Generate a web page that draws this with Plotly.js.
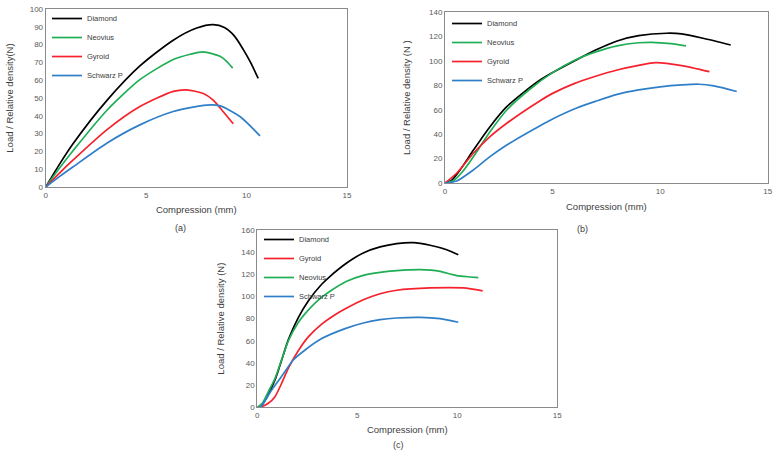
<!DOCTYPE html>
<html>
<head>
<meta charset="utf-8">
<script src="https://cdn.plot.ly/plotly-3.0.1.min.js"></script>
<style>
    body { margin: 0; background: #fff; }
    #graph { width: 778px; height: 462px; }
</style>
</head>
<body>
<div id="graph"></div>
<script>
/* panel (a) */
const aDiamondX = [0, 0.7, 1.37, 3.04, 4.69, 6.35, 7.52, 8.34, 8.9, 9.4, 9.84, 10.2, 10.58];
const aDiamondY = [0, 13, 24.4, 48.5, 68, 82.5, 89.3, 91.2, 89.6, 84.8, 77.2, 70, 61];
const aNeoviusX = [0, 0.7, 1.37, 3.04, 4.69, 6.35, 7.2, 7.84, 8.68, 9.01, 9.31];
const aNeoviusY = [0, 10.8, 20.5, 43, 60.3, 71.6, 74.6, 75.9, 73.4, 70.6, 66.8];
const aGyroidX = [0, 0.7, 1.37, 3.04, 4.69, 6.35, 7.02, 7.85, 8.34, 8.84, 9.34];
const aGyroidY = [0, 8, 15.2, 32.1, 45.2, 53.7, 54.6, 52.5, 48.8, 42.3, 35.5];
const aSchwarzX = [0, 0.7, 1.37, 3.04, 4.69, 6.35, 8.01, 8.68, 9.67, 10.67];
const aSchwarzY = [0, 6, 11.4, 24.6, 34.9, 42.4, 46, 45.6, 39.6, 28.7];

/* panel (b) */
const bDiamondX = [0, 0.3, 0.7, 1.32, 2.09, 2.87, 4.42, 6.12, 7, 8, 9, 10.3, 11, 12, 13.28];
const bDiamondY = [0, 2, 10.7, 27, 46.2, 62.6, 84.5, 101, 109, 116.5, 120.8, 122.8, 122.3, 118.7, 113.2];
const bNeoviusX = [0, 0.4, 0.8, 1.32, 2.09, 2.87, 4, 5, 6, 7, 8, 9, 9.6, 10.5, 11.2];
const bNeoviusY = [0, 2, 9, 21.6, 42, 59.9, 77.7, 90.5, 100.5, 107.5, 112.5, 115, 115.4, 114.3, 112.4];
const bGyroidX = [0, 0.54, 1.32, 2.09, 2.87, 4.42, 5, 6, 7, 8, 9, 9.8, 11, 12.29];
const bGyroidY = [0, 8, 24.4, 38, 49, 67.5, 73.5, 81.5, 87.5, 92.7, 96.5, 98.7, 96.3, 91.3];
const bSchwarzX = [0, 0.54, 1.32, 2.09, 2.87, 4.42, 5, 6.12, 7, 8, 9, 10, 11, 11.8, 12.5, 13.56];
const bSchwarzY = [0, 1.6, 10.7, 21.6, 31.2, 47, 52.5, 61.5, 67, 72.7, 76.3, 78.8, 80.4, 81, 79.6, 75];

/* panel (c) */
const cDiamondX = [0, 0.15, 0.5, 0.885, 1.22, 1.55, 2.05, 2.55, 3.22, 3.64, 4.47, 5.3, 6.14, 6.97, 7.8, 8.64, 9.47, 10.05];
const cDiamondY = [0, 0, 10, 24.6, 42.7, 60.8, 81, 96, 111, 118.2, 130.2, 139.3, 144.7, 147.7, 148.6, 146.2, 142.2, 137.7];
const cGyroidX = [0, 0.135, 0.55, 0.885, 1.22, 1.55, 2.05, 2.55, 3.22, 3.89, 4.47, 5.3, 6.14, 6.97, 8.64, 10.3, 11.27];
const cGyroidY = [0, 0, 3.6, 9.6, 21.7, 35.2, 51, 63.5, 75, 83.5, 89.5, 97, 102.5, 105.6, 107.7, 107.7, 105];
const cNeoviusX = [0, 0.25, 0.55, 0.885, 1.22, 1.55, 2.05, 2.39, 3.05, 3.64, 4.47, 5.3, 6.14, 6.97, 8.14, 9.14, 9.64, 9.97, 10.64, 11.05];
const cNeoviusY = [0, 3.6, 14, 26, 43, 60, 76.5, 84.5, 96.8, 104.7, 113.7, 119.1, 121.8, 123.3, 124.2, 122.7, 120.3, 118.8, 117.6, 117];
const cSchwarzX = [0, 0.15, 0.72, 1.22, 1.8, 2.39, 3.22, 4.39, 5.3, 6.14, 6.97, 8.14, 9.14, 10.05];
const cSchwarzY = [0, 0, 15.6, 28, 42.7, 51.7, 62, 71, 76.1, 79.1, 80.6, 81.2, 80, 76.7];

const xTitle = "Compression (mm)";
const yTitles = ["Load / Relative density(N)", "Load / Relative density (N )", "Load / Relative density (N)"];
const captions = ["(a)", "(b)", "(c)"];

const colors = {
    Diamond: "#000000",
    Neovius: "#1fae55",
    Gyroid: "#f5222d",
    "Schwarz P": "#2f7fc8",
};

const FONT = "Liberation Sans, Arial, sans-serif";

function makeTrace(name, x, y, ax, legend) {
    return {
        x: x,
        y: y,
        name: name,
        type: "scatter",
        mode: "lines",
        xaxis: "x" + ax,
        yaxis: "y" + ax,
        legend: legend,
        line: { color: colors[name], width: 1.7, shape: "spline", smoothing: 0.7 },
    };
}

/* shared axis look, Excel-like box */
function axis(domain, range, dtick, title, anchor, standoff) {
    return {
        domain: domain,
        range: range,
        dtick: dtick,
        anchor: anchor,
        showline: true,
        mirror: true,
        linecolor: "#8a8a8a",
        linewidth: 1,
        showgrid: false,
        zeroline: false,
        ticks: "",
        tickfont: { family: FONT, size: 8, color: "#595959" },
        title: {
            text: title,
            standoff: standoff,
            font: { family: FONT, size: 9.5, color: "#404040" },
        },
    };
}

function legendBox(x, y) {
    return {
        x: x,
        y: y,
        xanchor: "left",
        yanchor: "top",
        bgcolor: "rgba(0,0,0,0)",
        borderwidth: 0,
        font: { family: FONT, size: 7.5, color: "#404040" },
        tracegroupgap: 0,
    };
}

function caption(text, x, y) {
    return {
        text: text,
        xref: "paper",
        yref: "paper",
        x: x,
        y: y,
        showarrow: false,
        font: { family: FONT, size: 9, color: "#404040" },
    };
}

const data = [
    makeTrace("Diamond", aDiamondX, aDiamondY, "", "legend"),
    makeTrace("Neovius", aNeoviusX, aNeoviusY, "", "legend"),
    makeTrace("Gyroid", aGyroidX, aGyroidY, "", "legend"),
    makeTrace("Schwarz P", aSchwarzX, aSchwarzY, "", "legend"),
    makeTrace("Diamond", bDiamondX, bDiamondY, "2", "legend2"),
    makeTrace("Neovius", bNeoviusX, bNeoviusY, "2", "legend2"),
    makeTrace("Gyroid", bGyroidX, bGyroidY, "2", "legend2"),
    makeTrace("Schwarz P", bSchwarzX, bSchwarzY, "2", "legend2"),
    makeTrace("Diamond", cDiamondX, cDiamondY, "3", "legend3"),
    makeTrace("Gyroid", cGyroidX, cGyroidY, "3", "legend3"),
    makeTrace("Neovius", cNeoviusX, cNeoviusY, "3", "legend3"),
    makeTrace("Schwarz P", cSchwarzX, cSchwarzY, "3", "legend3"),
];

const layout = {
    width: 778,
    height: 462,
    margin: { l: 0, r: 0, t: 0, b: 0 },
    paper_bgcolor: "#ffffff",
    plot_bgcolor: "#ffffff",
    showlegend: true,
    xaxis: axis([0.0587, 0.446], [0, 15], 5, xTitle, "y", 7),
    yaxis: axis([0.5952, 0.9805], [0, 100], 10, yTitles[0], "x", 14),
    xaxis2: axis([0.572, 0.9868], [0, 15], 5, xTitle, "y2", 8),
    yaxis2: axis([0.6039, 0.9734], [0, 140], 20, yTitles[1], "x2", 16),
    xaxis3: axis([0.3307, 0.7163], [0, 15], 5, xTitle, "y3", 7),
    yaxis3: axis([0.1184, 0.5022], [0, 160], 20, yTitles[2], "x3", 14),
    legend: legendBox(0.0604, 0.9913),
    legend2: legendBox(0.5746, 0.9805),
    legend3: legendBox(0.3329, 0.5130),
    annotations: [
        caption(captions[0], 0.2224, 0.5065),
        caption(captions[1], 0.7584, 0.5043),
        caption(captions[2], 0.5116, 0.0216),
    ],
};

Plotly.newPlot("graph", data, layout, { displayModeBar: false, staticPlot: true });
</script>
</body>
</html>
